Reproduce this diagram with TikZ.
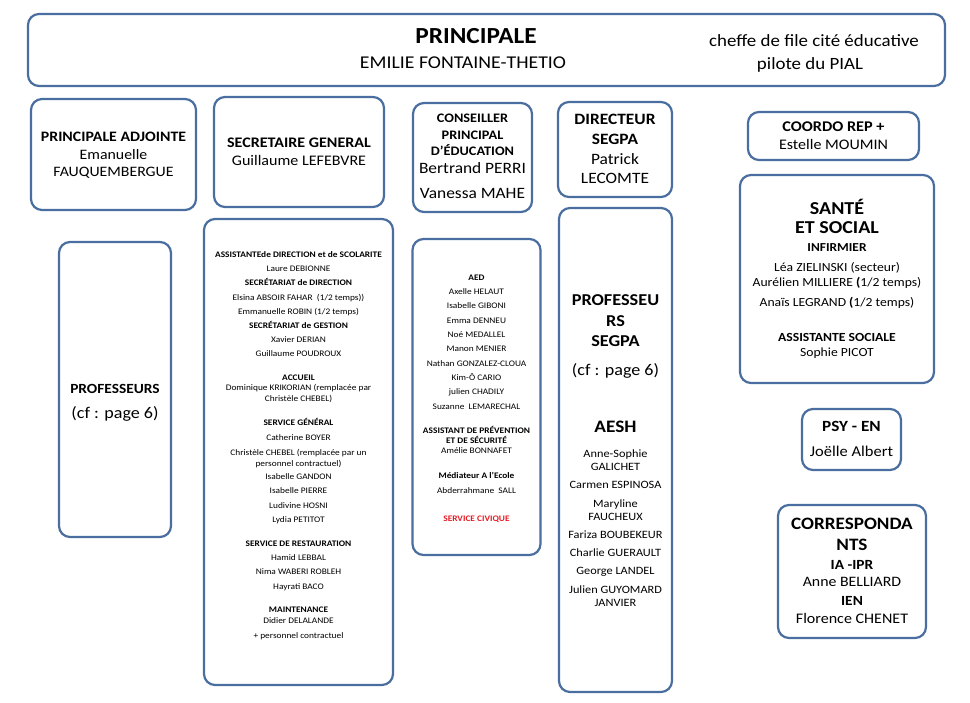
\documentclass[tikz,border=0pt]{standalone}
\usepackage{fontspec}
\setmainfont{Carlito}[FakeStretch=1.1]
\usepackage{xcolor}
\usetikzlibrary{positioning}

\definecolor{cadre}{RGB}{74,110,160}
\definecolor{civique}{RGB}{232,28,36}
\newcommand{\taille}[1]{\fontsize{#1}{#1}\selectfont}

\tikzset{
  boite/.style={draw=cadre, line width=2.2pt, rounded corners=11pt, fill=white, inner sep=0pt},
  ligne/.style={anchor=mid, inner sep=0pt, align=center},
  txt/.style={ligne, yshift=-2.5pt},
  petit/.style={ligne, yshift=-1pt, font=\taille{8.5}},
  petitgras/.style={ligne, yshift=-1pt, font=\taille{8.5}\bfseries},
}

\begin{document}
\begin{tikzpicture}[x=1pt, y=-1pt]
    \useasboundingbox (0,0) rectangle (970,703);

    % === CADRES ===
    \node[boite, minimum width=917, minimum height=72]  (principale) at (486.5,50) {};
    \node[boite, minimum width=165, minimum height=111] (adjointe)   at (113.5,154.5) {};
    \node[boite, minimum width=170, minimum height=110] (secgen)     at (299,152) {};
    \node[boite, minimum width=119, minimum height=109] (cpe)        at (472.5,157.5) {};
    \node[boite, minimum width=114, minimum height=95]  (dirsegpa)   at (615,149.5) {};
    \node[boite, minimum width=171, minimum height=48]  (coordo)     at (833.5,136) {};
    \node[boite, minimum width=112, minimum height=295] (profs)      at (115,389.5) {};
    \node[boite, minimum width=189, minimum height=466] (secretariat) at (298.5,452) {};
    \node[boite, minimum width=128, minimum height=316] (viesco)     at (476.5,397) {};
    \node[boite, minimum width=113, minimum height=484] (segpa)      at (615.5,450) {};
    \node[boite, minimum width=194, minimum height=208] (sante)      at (837,279) {};
    \node[boite, minimum width=99,  minimum height=61]  (psy)        at (851.5,439.5) {};
    \node[boite, minimum width=148, minimum height=133] (corresp)    at (852,571.5) {};

    % === PRINCIPALE ===
    \node[txt, font=\taille{23}\bfseries] (pTitre) at (476,39) {PRINCIPALE};
    \node[txt, font=\taille{18}] (pNom) at (463,64) {EMILIE FONTAINE-THETIO};
    \node[txt, font=\taille{17.2}] (pCite) at (814,42) {cheffe de file cité éducative};
    \node[txt, font=\taille{17.2}] (pPial) at (810,65) {pilote du PIAL};

    % === ADJOINTE / SECRETAIRE GENERAL ===
    \node[txt, font=\taille{14.4}\bfseries] (aTitre) at (113.5,137) {PRINCIPALE ADJOINTE};
    \node[txt, font=\taille{14.4}] (aNom1) at (113.5,154.5) {Emanuelle};
    \node[txt, font=\taille{14.4}] (aNom2) at (113.5,172) {FAUQUEMBERGUE};
    \node[txt, font=\taille{14.6}\bfseries] (sgTitre) at (299,143) {SECRETAIRE GENERAL};
    \node[txt, font=\taille{14.6}] (sgNom) at (299,161) {Guillaume LEFEBVRE};

    % === CPE ===
    \node[txt, font=\taille{13}\bfseries] (cpe1) at (472.5,118) {CONSEILLER};
    \node[txt, font=\taille{13}\bfseries] (cpe2) at (472.5,134.5) {PRINCIPAL};
    \node[txt, font=\taille{13}\bfseries] (cpe3) at (472.5,151) {D'ÉDUCATION};
    \node[txt, font=\taille{15.8}] (cpe4) at (472.5,169) {Bertrand PERRI};
    \node[txt, font=\taille{15.8}] (cpe5) at (472.5,194) {Vanessa MAHE};

    % === DIRECTEUR SEGPA / COORDO ===
    \node[txt, font=\taille{15.8}\bfseries] (d1) at (615,120) {DIRECTEUR};
    \node[txt, font=\taille{15.8}\bfseries] (d2) at (615,139.5) {SEGPA};
    \node[txt, font=\taille{15.8}] (d3) at (615,159.5) {Patrick};
    \node[txt, font=\taille{15.8}] (d4) at (615,179) {LECOMTE};
    \node[txt, font=\taille{14.8}\bfseries] (c1) at (833.5,127) {COORDO REP +};
    \node[txt, font=\taille{14.6}] (c2) at (833.5,145) {Estelle MOUMIN};

    % === PROFESSEURS ===
    \node[txt, font=\taille{14}\bfseries] (pr1) at (115,389) {PROFESSEURS};
    \node[txt, font=\taille{16.4}] (pr2) at (115,414) {(cf : page 6)};

    % === SECRETARIAT ===
    \node[petitgras] (s1)  at (298.5,254) {ASSISTANTEde DIRECTION et de SCOLARITE};
    \node[petit]     (s2)  at (298.5,268) {Laure DEBIONNE};
    \node[petitgras] (s3)  at (298.5,282) {SECRÉTARIAT de DIRECTION};
    \node[petit]     (s4)  at (298.5,297) {Elsina ABSOIR FAHAR\ \ (1/2 temps))};
    \node[petit]     (s5)  at (298.5,311) {Emmanuelle ROBIN (1/2 temps)};
    \node[petitgras] (s6)  at (298.5,325) {SECRÉTARIAT de GESTION};
    \node[petit]     (s7)  at (298.5,339) {Xavier DERIAN};
    \node[petit]     (s8)  at (298.5,353) {Guillaume POUDROUX};
    \node[petitgras] (s9)  at (298.5,377) {ACCUEIL};
    \node[petit]     (s10) at (298.5,387.5) {Dominique KRIKORIAN (remplacée par};
    \node[petit]     (s11) at (298.5,398) {Christèle CHEBEL)};
    \node[petitgras] (s12) at (298.5,422) {SERVICE GÉNÉRAL};
    \node[petit]     (s13) at (298.5,437) {Catherine BOYER};
    \node[petit]     (s14) at (298.5,452) {Christèle CHEBEL (remplacée par un};
    \node[petit]     (s15) at (298.5,463) {personnel contractuel)};
    \foreach \nom [count=\i from 0] in {Isabelle GANDON, Isabelle PIERRE, Ludivine HOSNI, Lydia PETITOT}
        \node[petit] (sg\i) at (298.5,476+\i*14.4) {\nom};
    \node[petitgras] (s16) at (298.5,543) {SERVICE DE RESTAURATION};
    \foreach \nom [count=\i from 0] in {Hamid LEBBAL, Nima WABERI ROBLEH, Hayrati BACO}
        \node[petit] (sr\i) at (298.5,557+\i*14.5) {\nom};
    \node[petitgras] (s17) at (298.5,609) {MAINTENANCE};
    \node[petit]     (s18) at (298.5,620) {Didier DELALANDE};
    \node[petit]     (s19) at (298.5,635) {+ personnel contractuel};

    % === VIE SCOLAIRE ===
    \node[petitgras] (v0) at (476.5,277) {AED};
    \foreach \nom [count=\i from 1] in {Axelle HELAUT, Isabelle GIBONI, Emma DENNEU, Noé MEDALLEL,
        Manon MENIER, Nathan GONZALEZ-CLOUA, Kim-Ô CARIO, julien CHADILY, Suzanne\ \ LEMARECHAL}
        \node[petit] (v\i) at (476.5,277+\i*14.3) {\nom};
    \node[petitgras] (ap1) at (476.5,430) {ASSISTANT DE PRÉVENTION};
    \node[petitgras] (ap2) at (476.5,440) {ET DE SÉCURITÉ};
    \node[petit]     (ap3) at (476.5,450) {Amélie BONNAFET};
    \node[petitgras] (m1)  at (476.5,475) {Médiateur A l'Ecole};
    \node[petit]     (m2)  at (476.5,490) {Abderrahmane\ \ SALL};
    \node[petitgras, text=civique] (civ) at (476.5,518) {SERVICE CIVIQUE};

    % === SEGPA / AESH ===
    \node[txt, font=\taille{16.6}\bfseries] (sp1) at (615.5,301) {PROFESSEU};
    \node[txt, font=\taille{16.6}\bfseries] (sp2) at (615.5,322) {RS};
    \node[txt, font=\taille{16.6}\bfseries] (sp3) at (615.5,342) {SEGPA};
    \node[txt, font=\taille{16.4}] (sp4) at (615.5,371) {(cf : page 6)};
    \node[txt, font=\taille{17.5}\bfseries] (ae0) at (615.5,428) {AESH};
    \node[txt, font=\taille{11.2}] (ae1) at (615.5,453) {Anne-Sophie};
    \node[txt, font=\taille{11.2}] (ae2) at (615.5,466) {GALICHET};
    \node[txt, font=\taille{11.2}] (ae3) at (615.5,484) {Carmen ESPINOSA};
    \node[txt, font=\taille{11.2}] (ae4) at (615.5,503) {Maryline};
    \node[txt, font=\taille{11.2}] (ae5) at (615.5,516) {FAUCHEUX};
    \node[txt, font=\taille{11.2}] (ae6) at (615.5,534) {Fariza BOUBEKEUR};
    \node[txt, font=\taille{11.2}] (ae7) at (615.5,552) {Charlie GUERAULT};
    \node[txt, font=\taille{11.2}] (ae8) at (615.5,570) {George LANDEL};
    \node[txt, font=\taille{11.2}] (ae9) at (615.5,589) {Julien GUYOMARD};
    \node[txt, font=\taille{11.2}] (ae10) at (615.5,602) {JANVIER};

    % === SANTE ET SOCIAL ===
    \node[txt, font=\taille{18.2}\bfseries] (so1) at (837,210) {SANTÉ};
    \node[txt, font=\taille{18.2}\bfseries] (so2) at (837,229) {ET SOCIAL};
    \node[txt, font=\taille{12.2}\bfseries] (so3) at (837,247) {INFIRMIER};
    \node[txt, font=\taille{12.4}] (so4) at (837,267) {Léa ZIELINSKI (secteur)};
    \node[txt, font=\taille{12.4}] (so5) at (837,282) {Aurélien MILLIERE \textbf{(}1/2 temps)};
    \node[txt, font=\taille{12.4}] (so6) at (837,302) {Anaïs LEGRAND \textbf{(}1/2 temps)};
    \node[txt, font=\taille{12.4}\bfseries] (so7) at (837,337) {ASSISTANTE SOCIALE};
    \node[txt, font=\taille{12.4}] (so8) at (837,352) {Sophie PICOT};

    % === PSY-EN / CORRESPONDANTS ===
    \node[txt, font=\taille{15.6}\bfseries] (ps1) at (851.5,427) {PSY - EN};
    \node[txt, font=\taille{15}] (ps2) at (851.5,452) {Joëlle Albert};
    \node[txt, font=\taille{17.4}\bfseries] (co1) at (852,525) {CORRESPONDA};
    \node[txt, font=\taille{17.4}\bfseries] (co2) at (852,546) {NTS};
    \node[txt, font=\taille{14}\bfseries] (co3) at (852,565) {IA -IPR};
    \node[txt, font=\taille{14.4}] (co4) at (852,582) {Anne BELLIARD};
    \node[txt, font=\taille{14}\bfseries] (co5) at (852,601) {IEN};
    \node[txt, font=\taille{14.6}] (co6) at (852,619) {Florence CHENET};

\end{tikzpicture}
\end{document}
